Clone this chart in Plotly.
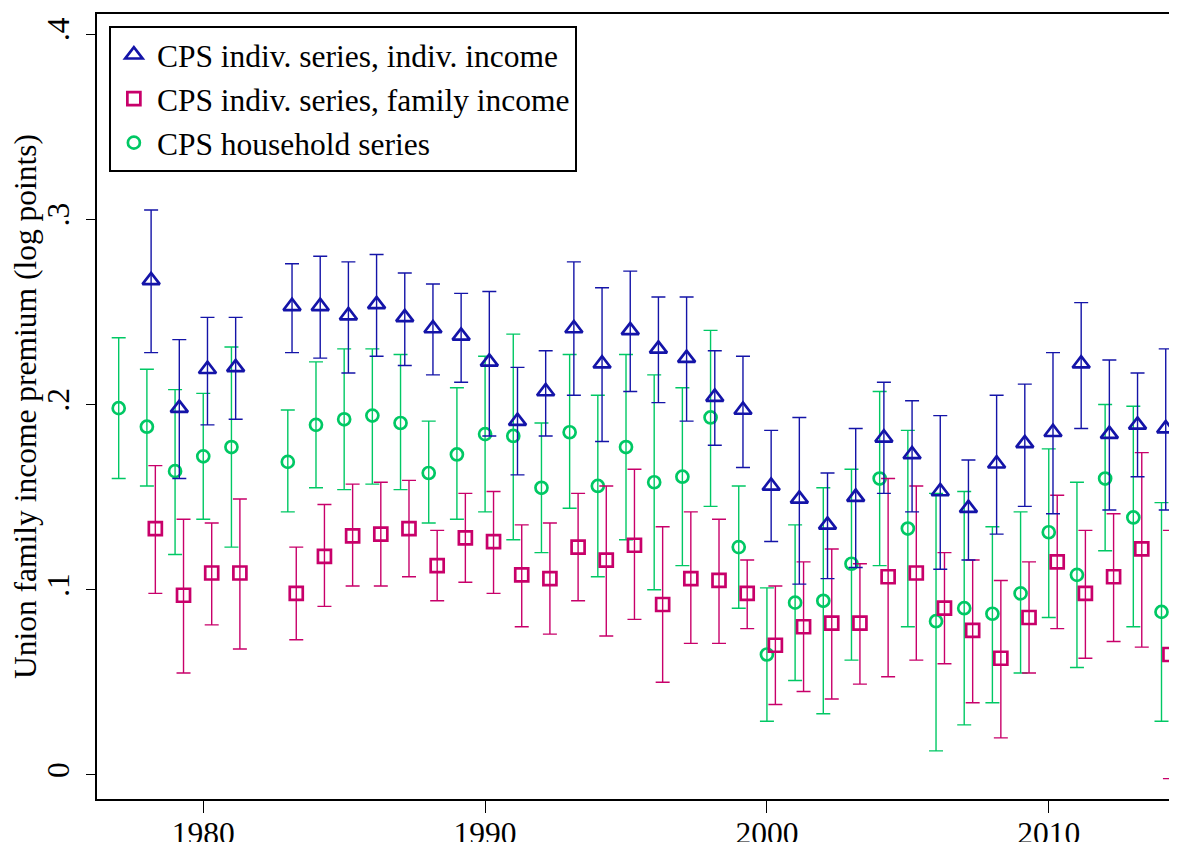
import plotly.graph_objects as go

# CPS household series (integer years)
hh_year = [1977, 1978, 1979, 1980, 1981, 1983, 1984, 1985, 1986, 1987, 1988, 1989, 1990,
           1991, 1992, 1993, 1994, 1995, 1996, 1997, 1998, 1999, 2000, 2001, 2002, 2003,
           2004, 2005, 2006, 2007, 2008, 2009, 2010, 2011, 2012, 2013, 2014]
hh_est = [0.198, 0.188, 0.164, 0.172, 0.177, 0.169, 0.189, 0.192, 0.194, 0.190, 0.163, 0.173, 0.184,
          0.183, 0.155, 0.185, 0.156, 0.177, 0.158, 0.161, 0.193, 0.123, 0.065, 0.093, 0.094, 0.114,
          0.160, 0.133, 0.083, 0.090, 0.087, 0.098, 0.131, 0.108, 0.160, 0.139, 0.088]
hh_hi = [0.236, 0.219, 0.208, 0.206, 0.231, 0.197, 0.223, 0.230, 0.230, 0.227, 0.191, 0.209, 0.226,
         0.238, 0.190, 0.227, 0.205, 0.227, 0.216, 0.209, 0.240, 0.156, 0.101, 0.135, 0.155, 0.165,
         0.207, 0.186, 0.152, 0.153, 0.134, 0.142, 0.176, 0.158, 0.200, 0.199, 0.147]
hh_lo = [0.160, 0.156, 0.119, 0.138, 0.123, 0.142, 0.155, 0.154, 0.157, 0.154, 0.136, 0.138, 0.142,
         0.127, 0.120, 0.144, 0.107, 0.127, 0.100, 0.113, 0.145, 0.090, 0.029, 0.051, 0.033, 0.062,
         0.113, 0.080, 0.013, 0.027, 0.039, 0.055, 0.085, 0.058, 0.121, 0.080, 0.029]

# CPS individual series, individual income
ind_year = [1978.15, 1979.15, 1980.15, 1981.15, 1983.15, 1984.15, 1985.15, 1986.15, 1987.15,
            1988.15, 1989.15, 1990.15, 1991.15, 1992.15, 1993.15, 1994.15, 1995.15, 1996.15,
            1997.15, 1998.15, 1999.15, 2000.15, 2001.15, 2002.15, 2003.15, 2004.15, 2005.15,
            2006.15, 2007.15, 2008.15, 2009.15, 2010.15, 2011.15, 2012.15, 2013.15, 2014.15]
ind_est = [0.267, 0.198, 0.219, 0.220, 0.253, 0.253, 0.248, 0.254, 0.247,
           0.241, 0.237, 0.223, 0.191, 0.207, 0.241, 0.222, 0.240, 0.230,
           0.225, 0.204, 0.197, 0.156, 0.149, 0.135, 0.150, 0.182, 0.173,
           0.153, 0.144, 0.168, 0.179, 0.185, 0.222, 0.184, 0.189, 0.187]
ind_hi = [0.305, 0.235, 0.247, 0.247, 0.276, 0.280, 0.277, 0.281, 0.271,
          0.265, 0.260, 0.261, 0.220, 0.229, 0.277, 0.263, 0.272, 0.258,
          0.258, 0.229, 0.226, 0.186, 0.193, 0.163, 0.187, 0.212, 0.202,
          0.194, 0.170, 0.205, 0.211, 0.228, 0.255, 0.224, 0.217, 0.230]
ind_lo = [0.228, 0.160, 0.189, 0.192, 0.228, 0.225, 0.217, 0.226, 0.221,
          0.216, 0.212, 0.183, 0.162, 0.183, 0.205, 0.180, 0.207, 0.201,
          0.191, 0.178, 0.166, 0.126, 0.103, 0.106, 0.112, 0.152, 0.142,
          0.111, 0.116, 0.130, 0.145, 0.141, 0.187, 0.143, 0.161, 0.143]

# CPS individual series, family income
fam_year = [1978.3, 1979.3, 1980.3, 1981.3, 1983.3, 1984.3, 1985.3, 1986.3, 1987.3,
            1988.3, 1989.3, 1990.3, 1991.3, 1992.3, 1993.3, 1994.3, 1995.3, 1996.3,
            1997.3, 1998.3, 1999.3, 2000.3, 2001.3, 2002.3, 2003.3, 2004.3, 2005.3,
            2006.3, 2007.3, 2008.3, 2009.3, 2010.3, 2011.3, 2012.3, 2013.3, 2014.3]
fam_est = [0.133, 0.097, 0.109, 0.109, 0.098, 0.118, 0.129, 0.130, 0.133,
           0.113, 0.128, 0.126, 0.108, 0.106, 0.123, 0.116, 0.124, 0.092,
           0.106, 0.105, 0.098, 0.070, 0.080, 0.082, 0.082, 0.107, 0.109,
           0.090, 0.078, 0.063, 0.085, 0.115, 0.098, 0.107, 0.122, 0.065]
fam_hi = [0.167, 0.138, 0.136, 0.149, 0.123, 0.146, 0.157, 0.158, 0.159,
          0.132, 0.152, 0.153, 0.135, 0.136, 0.152, 0.156, 0.165, 0.134,
          0.142, 0.138, 0.116, 0.102, 0.115, 0.122, 0.114, 0.160, 0.156,
          0.120, 0.116, 0.105, 0.115, 0.151, 0.132, 0.141, 0.174, 0.132]
fam_lo = [0.098, 0.055, 0.081, 0.068, 0.073, 0.091, 0.102, 0.102, 0.107,
          0.094, 0.104, 0.098, 0.080, 0.076, 0.094, 0.075, 0.084, 0.050,
          0.071, 0.071, 0.079, 0.038, 0.045, 0.041, 0.049, 0.053, 0.062,
          0.060, 0.039, 0.020, 0.055, 0.079, 0.063, 0.072, 0.069, -0.002]

y_ticks = [0, 0.1, 0.2, 0.3, 0.4]
y_ticktext = ["0", ".1", ".2", ".3", ".4"]
x_ticks = [1980, 1990, 2000, 2010]

FONT = "Liberation Serif, Times New Roman, serif"
FS = 31.5
BLUE = "#1414A8"
PINK = "#C8006A"
GREEN = "#00C864"


def series(name, x, est, hi, lo, color, symbol, size, rank):
    up = [h - e for h, e in zip(hi, est)]
    down = [e - l for e, l in zip(est, lo)]
    return go.Scatter(
        name=name, x=x, y=est, mode="markers", legendrank=rank,
        marker=dict(symbol=symbol, size=size, color=color, line=dict(color=color, width=2.7)),
        error_y=dict(type="data", symmetric=False, array=up, arrayminus=down,
                     color=color, thickness=1.4, width=7),
    )


fig = go.Figure()
fig.add_trace(series("CPS household series", hh_year, hh_est, hh_hi, hh_lo, GREEN, "circle-open", 12, 3))
fig.add_trace(series("CPS indiv. series, family income", fam_year, fam_est, fam_hi, fam_lo, PINK, "square-open", 13, 2))
fig.add_trace(series("CPS indiv. series, indiv. income", ind_year, ind_est, ind_hi, ind_lo, BLUE, "triangle-up-open", 15, 1))

# page body has an 8px margin, so the figure is a bit smaller and shifted
fig.update_layout(
    width=1169, height=834,
    margin=dict(l=89, r=0, t=6, b=43, autoexpand=False),
    paper_bgcolor="white", plot_bgcolor="white",
    font=dict(family=FONT, size=FS, color="black"),
    showlegend=True,
    legend=dict(
        x=0.011, y=0.985, xanchor="left", yanchor="top",
        bgcolor="white", bordercolor="black", borderwidth=2,
        font=dict(family=FONT, size=FS, color="black"),
        traceorder="normal", itemsizing="trace", itemwidth=36,
    ),
)
fig.update_xaxes(
    range=[1976.23, 2014.55], tickvals=x_ticks, showgrid=False, zeroline=False,
    showline=True, linecolor="black", linewidth=2, mirror=True, automargin=False,
    ticks="outside", ticklen=12, tickwidth=1.3, tickcolor="black",
    tickfont=dict(family=FONT, size=FS), ticklabelstandoff=-7,
)
fig.update_yaxes(
    range=[-0.013, 0.4108], tickvals=y_ticks, ticktext=y_ticktext, tickangle=-90,
    showgrid=False, zeroline=False, automargin=False,
    showline=True, linecolor="black", linewidth=2,
    ticks="outside", ticklen=9, tickwidth=1.3, tickcolor="black",
    tickfont=dict(family=FONT, size=FS), ticklabelstandoff=4,
    title=dict(text="Union family income premium (log points)", font=dict(family=FONT, size=FS), standoff=6),
)

fig.write_html("out.html")
